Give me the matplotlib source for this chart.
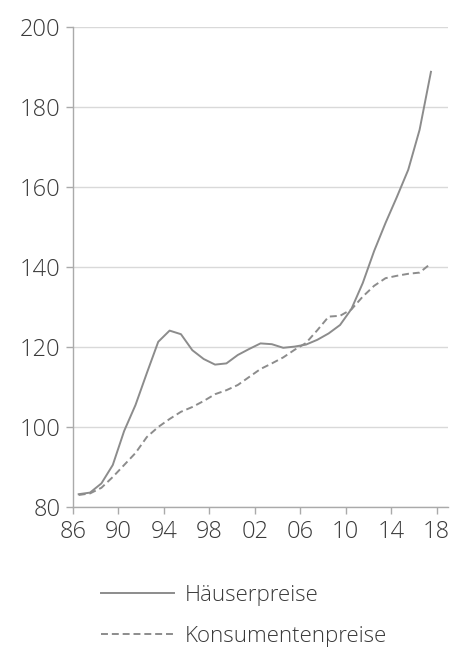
import matplotlib
matplotlib.use("Agg")
import matplotlib.pyplot as plt
import numpy as np

plt.rcParams['font.family'] = ['Open Sans', 'DejaVu Sans']
plt.rcParams['font.weight'] = 'light'
plt.rcParams['lines.scale_dashes'] = False

years = list(range(1986, 2018))
haeuserpreise = [83.2, 83.6, 85.9, 90.5, 99.0, 105.5, 113.5, 121.3, 124.1, 123.2,
                 119.2, 117.0, 115.6, 115.9, 118.0, 119.5, 120.9, 120.7, 119.8, 120.1,
                 120.6, 121.8, 123.4, 125.5, 129.5, 136.0, 144.0, 151.0, 157.5, 164.3,
                 174.3, 188.8]
konsumentenpreise = [83.0, 83.4, 84.8, 87.5, 90.5, 93.5, 97.5, 100.0, 102.0, 103.8,
                     105.0, 106.5, 108.2, 109.2, 110.5, 112.5, 114.5, 115.9, 117.4, 119.3,
                     121.0, 124.2, 127.6, 127.8, 129.4, 132.6, 135.3, 137.2, 137.8, 138.3,
                     138.6, 140.9]
series_labels = ['Häuserpreise', 'Konsumentenpreise']
x_ticks = [1986, 1990, 1994, 1998, 2002, 2006, 2010, 2014, 2018]
x_ticklabels = ['86', '90', '94', '98', '02', '06', '10', '14', '18']
y_ticks = [80, 100, 120, 140, 160, 180, 200]

fig = plt.figure(figsize=(4.57, 6.51), dpi=100)
ax = fig.add_axes([73/457, 1-507/651, (448-73)/457, (507-27)/651])

x = np.array(years) + 0.5
line_col = '#8c8c8c'
ax.plot(x, haeuserpreise, color=line_col, lw=1.4, label=series_labels[0])
ax.plot(x, konsumentenpreise, color=line_col, lw=1.4, dashes=(5, 2.8), label=series_labels[1])

ax.set_xlim(1986, 2019)
ax.set_ylim(80, 200)
ax.set_xticks(x_ticks)
ax.set_xticklabels(x_ticklabels)
ax.set_yticks(y_ticks)

grid_col = '#d9d9d9'
ax.yaxis.grid(True, color=grid_col, lw=1)
ax.set_axisbelow(True)
for s in ['top', 'right']:
    ax.spines[s].set_visible(False)
for s in ['left', 'bottom']:
    ax.spines[s].set_color('#aaaaaa')
    ax.spines[s].set_linewidth(1)
ax.tick_params(axis='both', colors='#aaaaaa', labelcolor='#3a3a3a', labelsize=17,
               length=5, width=1)
ax.tick_params(axis='x', pad=4)
ax.tick_params(axis='y', pad=4)

leg = fig.legend(loc='upper left', bbox_to_anchor=(81/457, 1-565/651), frameon=False,
                 fontsize=16, handlelength=3.3, handletextpad=0.45, labelspacing=0.9,
                 labelcolor='#3a3a3a')

fig.savefig('out.png', dpi=100, facecolor='white')
